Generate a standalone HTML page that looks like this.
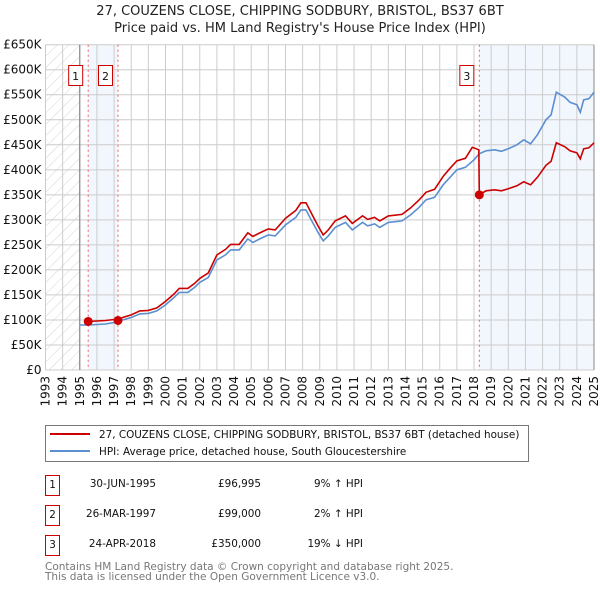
<!DOCTYPE html>
<html><head><meta charset="utf-8"><style>
body{margin:0;background:#fff;}
svg text{font-family:"DejaVu Sans","Liberation Sans",sans-serif;}
</style></head><body>
<svg id="chart" width="600" height="590" viewBox="0 0 600 590" xmlns="http://www.w3.org/2000/svg">
<defs>
<pattern id="hatch" patternUnits="userSpaceOnUse" width="8" height="8" patternTransform="rotate(45)">
<line x1="0" y1="0" x2="0" y2="8" stroke="#d4d4d4" stroke-width="1"/>
</pattern>
</defs>
<text x="300" y="15" font-size="13" text-anchor="middle" fill="#222">27, COUZENS CLOSE, CHIPPING SODBURY, BRISTOL, BS37 6BT</text>
<text x="300" y="32" font-size="13" text-anchor="middle" fill="#222">Price paid vs. HM Land Registry's House Price Index (HPI)</text>
<g id="plot"></g>
<g>
<rect x="45.5" y="425.5" width="483" height="36" fill="#fff" stroke="#777"/>
<line x1="50" y1="434" x2="90" y2="434" stroke="#cc0000" stroke-width="2"/>
<text x="99" y="438" font-size="10.4" fill="#111">27, COUZENS CLOSE, CHIPPING SODBURY, BRISTOL, BS37 6BT (detached house)</text>
<line x1="50" y1="451" x2="90" y2="451" stroke="#5b8fd0" stroke-width="2"/>
<text x="99" y="455" font-size="10.4" fill="#111">HPI: Average price, detached house, South Gloucestershire</text>
</g>
<g font-size="10.4" fill="#111">
<rect x="45.5" y="475.5" width="14" height="20" fill="#fff" stroke="#cc0000"/><text x="52.5" y="488" text-anchor="middle">1</text>
<text x="156" y="487" text-anchor="end">30-JUN-1995</text><text x="261" y="487" text-anchor="end">£96,995</text><text x="363" y="487" text-anchor="end">9% ↑ HPI</text>
<rect x="45.5" y="505.5" width="14" height="20" fill="#fff" stroke="#cc0000"/><text x="52.5" y="518" text-anchor="middle">2</text>
<text x="156" y="517" text-anchor="end">26-MAR-1997</text><text x="261" y="517" text-anchor="end">£99,000</text><text x="363" y="517" text-anchor="end">2% ↑ HPI</text>
<rect x="45.5" y="535.5" width="14" height="20" fill="#fff" stroke="#cc0000"/><text x="52.5" y="548" text-anchor="middle">3</text>
<text x="156" y="547" text-anchor="end">24-APR-2018</text><text x="261" y="547" text-anchor="end">£350,000</text><text x="363" y="547" text-anchor="end">19% ↓ HPI</text>
</g>
<text x="45" y="570" font-size="10.5" fill="#777">Contains HM Land Registry data © Crown copyright and database right 2025.</text>
<text x="45" y="580" font-size="10.5" fill="#777">This data is licensed under the Open Government Licence v3.0.</text>
</svg>
<script>
const hpiYears=[1995.0,1995.5,1996,1996.5,1997,1997.5,1998,1998.5,1999,1999.5,2000,2000.5,2000.8,2001.3,2001.7,2002,2002.5,2003,2003.5,2003.8,2004.3,2004.8,2005.1,2005.5,2006,2006.4,2007,2007.6,2007.9,2008.2,2008.5,2008.9,2009.2,2009.5,2009.9,2010.5,2010.9,2011.5,2011.8,2012.2,2012.5,2013,2013.8,2014.3,2014.8,2015.2,2015.7,2016.2,2016.6,2017,2017.5,2018,2018.3,2018.7,2019.2,2019.6,2020,2020.5,2020.9,2021.3,2021.7,2022.2,2022.5,2022.8,2023.3,2023.6,2024.0,2024.2,2024.4,2024.7,2025];
const hpiValues=[90,90,91,92,95,100,105,112,113,118,130,145,155,155,165,175,185,220,230,240,240,262,255,262,270,268,290,305,320,320,300,275,258,268,285,295,280,295,288,292,285,295,298,310,325,340,345,370,385,400,405,420,432,438,440,437,442,450,460,452,470,500,510,555,545,535,530,515,540,542,555];
const priceYears=[1995.5,1996,1996.5,1997,1997.23,1997.5,1998,1998.5,1999,1999.5,2000,2000.5,2000.8,2001.3,2001.7,2002,2002.5,2003,2003.5,2003.8,2004.3,2004.8,2005.1,2005.5,2006,2006.4,2007,2007.6,2007.9,2008.2,2008.5,2008.9,2009.2,2009.5,2009.9,2010.5,2010.9,2011.5,2011.8,2012.2,2012.5,2013,2013.8,2014.3,2014.8,2015.2,2015.7,2016.2,2016.6,2017,2017.5,2017.9,2018.28,2018.31,2018.7,2019.2,2019.6,2020,2020.5,2020.9,2021.3,2021.7,2022.2,2022.5,2022.8,2023.3,2023.6,2024,2024.2,2024.4,2024.7,2025];
const priceValues=[97,98,99,101,99,105,110,118,119,124,137,152,163,163,173,183,194,230,241,251,251,274,267,274,282,280,303,319,334,334,314,288,270,280,298,308,293,308,301,305,298,308,311,324,340,355,361,387,403,418,423,445,440,350,358,360,358,362,368,376,370,385,409,417,454,446,438,434,422,442,444,454];
const saleYears=[1995.49,1997.23,2018.31];
const saleValues=[96.995,99,350];
const saleLabels=["1","2","3"];
const yTicks=[0,50,100,150,200,250,300,350,400,450,500,550,600,650];
const yTickLabels=["£0","£50K","£100K","£150K","£200K","£250K","£300K","£350K","£400K","£450K","£500K","£550K","£600K","£650K"];
const xTicks=[1993,1994,1995,1996,1997,1998,1999,2000,2001,2002,2003,2004,2005,2006,2007,2008,2009,2010,2011,2012,2013,2014,2015,2016,2017,2018,2019,2020,2021,2022,2023,2024,2025];

const L=45.5,R=594,T=44.7,B=370;
const x=v=>L+(v-1993)/32*(R-L);
const y=v=>B-v/650*(B-T);
const NS="http://www.w3.org/2000/svg";
const g=document.getElementById('plot');
function mk(tag,attrs,parent){const e=document.createElementNS(NS,tag);for(const k in attrs)e.setAttribute(k,attrs[k]);(parent||g).appendChild(e);return e;}

let r=mk('rect',{x:L,y:T,width:x(1995)-L,height:B-T,fill:'url(#hatch)'});


r=mk('rect',{x:x(saleYears[0]),y:T,width:x(saleYears[1])-x(saleYears[0]),height:B-T,fill:'#f2f6fd'});


r=mk('rect',{x:x(saleYears[2]),y:T,width:R-x(saleYears[2]),height:B-T,fill:'#f2f6fd'});



yTicks.forEach((v,i)=>{
  const ln=mk('line',{x1:L,x2:R,y1:y(v),y2:y(v),stroke:'#ccc','stroke-width':1});
  
  
  const t=mk('text',{x:L-4,y:y(v)+4,'font-size':12,'text-anchor':'end',fill:'#111'});
  t.textContent=yTickLabels[i];
  
  
});
xTicks.forEach(v=>{
  const ln=mk('line',{x1:x(v),x2:x(v),y1:T,y2:B,stroke:'#ccc','stroke-width':1});
  
  
  const t=mk('text',{x:0,y:0,'font-size':12,'text-anchor':'end',fill:'#111',transform:`translate(${x(v)+4},${B+6}) rotate(-90)`});
  t.textContent=v;
  
  
});
let ax=mk('line',{x1:x(1995),x2:x(1995),y1:T,y2:B,stroke:'#777'});


ax=mk('line',{x1:R,x2:R,y1:T,y2:B,stroke:'#888'});



saleYears.forEach((s,i)=>{
  const ln=mk('line',{x1:x(s),x2:x(s),y1:T,y2:B,stroke:'#f06060','stroke-dasharray':'2,3','stroke-width':1});
  
  
});

function path(xs,vs){return xs.map((a,i)=>(i?'L':'M')+x(a).toFixed(1)+','+y(vs[i]).toFixed(1)).join('');}
let p=mk('path',{d:path(hpiYears,hpiValues),fill:'none',stroke:'#5b8fd0','stroke-width':1.6});


p=mk('path',{d:path(priceYears,priceValues),fill:'none',stroke:'#cc0000','stroke-width':1.6});



saleYears.forEach((s,i)=>{
  const c=mk('circle',{cx:x(s),cy:y(saleValues[i]),r:4.5,fill:'#cc0000'});
  
  
  const bx=mk('rect',{x:x(s)-19.5,y:65.5,width:14,height:20,fill:'#fff',stroke:'#cc0000'});
  
  
  const t=mk('text',{x:x(s)-12.5,y:80,'font-size':11,'text-anchor':'middle',fill:'#111'});
  t.textContent=saleLabels[i];
  
  
});
</script>
</body></html>
